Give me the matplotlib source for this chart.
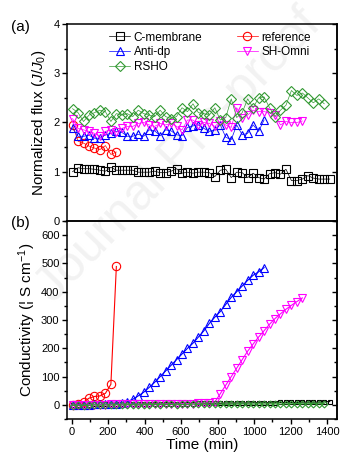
import matplotlib
matplotlib.use("Agg")
import matplotlib.pyplot as plt
from matplotlib.ticker import MultipleLocator

plt.rcParams['font.family'] = ['Liberation Sans', 'DejaVu Sans']
plt.rcParams['mathtext.fontset'] = 'custom'
plt.rcParams['mathtext.rm'] = 'Liberation Sans'
plt.rcParams['mathtext.it'] = 'Liberation Sans:italic'

# tiempos de muestreo (min)
time = [5, 35, 65, 95, 125, 155, 185, 215, 245, 275, 305, 335, 365, 395, 425, 455,
        485, 515, 545, 575, 605, 635, 665, 695, 725, 755, 785, 815, 845, 875, 905,
        935, 965, 995, 1025, 1055, 1085, 1115, 1145, 1175, 1205, 1235, 1265, 1295,
        1325, 1355, 1385, 1415]

# (a) flujo normalizado
flux_c = [1.0, 1.08, 1.06, 1.06, 1.05, 1.03, 1.01, 1.09, 1.03, 1.03, 1.03, 1.03, 0.99,
          0.99, 0.99, 1.01, 0.98, 0.98, 1.01, 1.06, 0.97, 0.99, 0.97, 0.99, 0.99, 0.98,
          0.90, 1.03, 1.05, 0.88, 0.99, 0.98, 0.88, 0.97, 0.88, 0.85, 0.96, 0.98, 0.95,
          1.05, 0.82, 0.82, 0.85, 0.92, 0.87, 0.85, 0.85, 0.85]
flux_ref = [1.95, 1.62, 1.58, 1.52, 1.48, 1.45, 1.53, 1.35, 1.40]
flux_anti = [1.88, 1.72, 1.72, 1.74, 1.68, 1.68, 1.75, 1.78, 1.82, 1.80, 1.72, 1.72,
             1.76, 1.72, 1.85, 1.83, 1.73, 1.85, 1.83, 1.75, 1.73, 1.90, 1.93, 1.95,
             1.88, 1.82, 1.85, 1.95, 1.70, 1.65, 1.95, 1.75, 1.78, 1.95, 1.82, 2.05]
flux_sh = [2.08, 1.88, 1.85, 1.82, 1.78, 1.72, 1.82, 1.85, 1.80, 1.88, 1.92, 1.92,
           1.98, 2.00, 1.95, 1.92, 1.98, 1.95, 1.98, 1.92, 1.85, 2.05, 2.05, 1.95,
           2.00, 1.98, 1.92, 2.02, 1.95, 1.90, 2.30, 2.10, 2.15, 2.25, 2.22, 2.22,
           2.20, 2.15, 1.95, 2.02, 2.00, 2.00, 2.03]
flux_rsho = [2.28, 2.20, 2.02, 2.15, 2.20, 2.25, 2.22, 2.02, 2.18, 2.15, 2.18, 2.12,
             2.25, 2.18, 2.15, 2.12, 2.25, 2.12, 2.08, 2.12, 2.30, 2.22, 2.38, 2.20,
             2.18, 2.15, 2.30, 2.05, 2.10, 2.48, 2.10, 2.20, 2.48, 2.30, 2.50, 2.52,
             2.30, 2.12, 2.25, 2.35, 2.65, 2.55, 2.60, 2.50, 2.40, 2.48, 2.38]

# (b) conductividad
cond_c = [0, 1, 1, 1, 2, 2, 2, 2, 3, 3, 3, 3, 3, 4, 4, 4, 4, 4, 5, 5, 5, 5, 5, 6, 6,
          6, 6, 6, 7, 7, 7, 7, 7, 8, 8, 8, 8, 8, 9, 9, 9, 9, 10, 10, 10, 10, 11, 12]
cond_ref = [0, 3, 10, 24, 30, 32, 41, 73, 489]
cond_anti = [0, 0, 1, 1, 2, 2, 3, 4, 5, 7, 12, 20, 32, 45, 62, 80, 100, 120, 140, 160,
             180, 200, 218, 240, 262, 288, 310, 330, 355, 380, 400, 420, 440, 458,
             470, 485]
cond_sh = [0, 0, 0, 1, 1, 1, 1, 2, 2, 2, 2, 3, 3, 3, 3, 3, 4, 4, 4, 4, 5, 5, 5, 6, 7,
           8, 10, 40, 70, 100, 130, 160, 190, 215, 240, 262, 285, 305, 322, 338, 352,
           365, 378]
cond_rsho = [-2, -1, -2, -1, 0, -1, 0, 0, 1, 0, 1, 1, 0, 1, 1, 2, 1, 2, 2, 1, 2, 2, 3,
             2, 3, 2, 3, 3, 2, 3, 3, 4, 3, 3, 4, 3, 4, 4, 3, 4, 4, 5, 4, 4, 5, 4, 5]

labels = ['C-membrane', 'reference', 'Anti-dp', 'SH-Omni', 'RSHO']
colors = ['black', 'red', 'blue', 'magenta', '#339933']
markers = ['s', 'o', '^', 'v', 'D']

fig = plt.figure(figsize=(3.57, 4.72), dpi=100)
fig.text(0.50, 0.67, 'Journal Pre-proof', rotation=46, fontsize=36,
         color='#f2f2f2', ha='center', va='center', zorder=-5)

ax1 = fig.add_axes([0.188, 0.532, 0.756, 0.417])
ax2 = fig.add_axes([0.188, 0.112, 0.756, 0.420])
for ax in (ax1, ax2):
    ax.set_facecolor('none')

flux = [flux_c, flux_ref, flux_anti, flux_sh, flux_rsho]
cond = [cond_c, cond_ref, cond_anti, cond_sh, cond_rsho]
lines = []
for i in range(5):
    ln, = ax1.plot(time[:len(flux[i])], flux[i], color=colors[i], marker=markers[i],
                   ms=6 if markers[i] != 'D' else 5.5, mfc='none', mew=0.8, lw=0.5,
                   label=labels[i])
    lines.append(ln)

for i in range(5):
    small = i in (0, 4)
    ax2.plot(time[:len(cond[i])], cond[i], color=colors[i], marker=markers[i],
             ms=3.5 if small else 6, mfc='none', mew=0.8, lw=0.8)

order = [0, 2, 4, 1, 3]
ax1.legend([lines[k] for k in order], [labels[k] for k in order], ncol=2,
           loc='upper left', bbox_to_anchor=(0.12, 1.01), frameon=False,
           fontsize=8.5, handlelength=1.8, handletextpad=0.3, columnspacing=2.9,
           labelspacing=0.25, borderpad=0.3)

ax1.set_xlim(-25, 1455)
ax2.set_xlim(-25, 1455)
ax1.set_ylim(0, 4)
ax2.set_ylim(-50, 650)

ax1.yaxis.set_major_locator(MultipleLocator(1))
ax1.yaxis.set_minor_locator(MultipleLocator(0.5))
ax2.yaxis.set_major_locator(MultipleLocator(100))
ax2.yaxis.set_minor_locator(MultipleLocator(50))
for ax in (ax1, ax2):
    ax.xaxis.set_major_locator(MultipleLocator(200))
    ax.xaxis.set_minor_locator(MultipleLocator(100))
    for s in ax.spines.values():
        s.set_linewidth(1.1)
    ax.tick_params(which='both', direction='out', width=1, labelsize=8, pad=2)
    ax.tick_params(which='major', length=3.5)
    ax.tick_params(which='minor', length=2)
    # eje derecho con marcas hacia adentro
    sec = ax.secondary_yaxis('right')
    sec.yaxis.set_major_locator(ax.yaxis.get_major_locator())
    sec.yaxis.set_minor_locator(ax.yaxis.get_minor_locator())
    sec.tick_params(which='both', direction='in', width=1, labelright=False)
    sec.tick_params(which='major', length=3.5)
    sec.tick_params(which='minor', length=2)
    sec.spines['right'].set_linewidth(1.1)
ax1.tick_params(axis='x', which='both', bottom=False, labelbottom=False)

ax1.set_ylabel(r'Normalized flux ($J/J_0$)', fontsize=11, labelpad=4)
ax2.set_ylabel(r'Conductivity (¦ S cm$^{-1}$)', fontsize=11, labelpad=2)
ax2.set_xlabel('Time (min)', fontsize=11, labelpad=1)

fig.text(0.03, 0.935, '(a)', fontsize=11)
fig.text(0.03, 0.52, '(b)', fontsize=11)

fig.savefig('out.png', dpi=100)
